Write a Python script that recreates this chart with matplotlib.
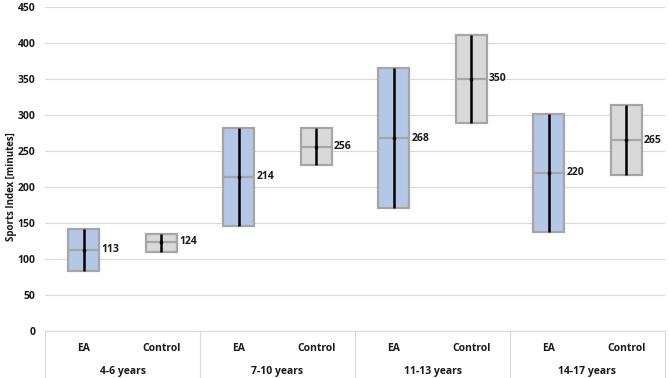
import matplotlib
matplotlib.use("Agg")
import matplotlib.pyplot as plt
import matplotlib.transforms as mtransforms

plt.rcParams['font.family'] = ['Open Sans', 'DejaVu Sans']

age_groups = ["4-6 years", "7-10 years", "11-13 years", "14-17 years"]
subgroups = ["EA", "Control"]

box_low = [83, 110, 146, 230, 171, 289, 137, 217]
box_high = [142, 135, 282, 282, 365, 411, 301, 314]
medians = [113, 124, 214, 256, 268, 350, 220, 265]

fill_colors = ["#B4C7E7", "#D9D9D9"]
edge_color = "#A6A6A6"
text_color = "#1a1a1a"

fig = plt.figure(figsize=(6.69, 3.78), dpi=100)
ax = fig.add_axes([0.0673, 0.1243, 0.9267, 0.8572])

n = len(medians)
xs = list(range(n))
for i in xs:
    fc = fill_colors[i % 2]
    ax.bar(i, box_high[i] - box_low[i], bottom=box_low[i], width=0.4,
           color=fc, edgecolor=edge_color, linewidth=1.6, zorder=2)
    ax.hlines(medians[i], i - 0.2, i + 0.2, color=edge_color, linewidth=1.6, zorder=3)
    ax.vlines(i, box_low[i], box_high[i], color="black", linewidth=1.8, zorder=4)
    ax.plot(i, medians[i], marker="s", ms=2, color="black", zorder=5)
    ax.text(i + 0.23, medians[i], str(medians[i]), ha="left", va="center",
            fontsize=7.5, fontweight="bold", color=text_color)

ax.set_xlim(-0.5, n - 0.5)
ax.set_ylim(0, 450)
ax.set_yticks(range(0, 451, 50))
ax.tick_params(axis="y", length=0, labelsize=7.5, pad=7, labelcolor=text_color)
for lab in ax.get_yticklabels():
    lab.set_fontweight("bold")
ax.grid(axis="y", color="#D9D9D9", linewidth=0.8, zorder=0)
ax.set_axisbelow(True)
ax.set_xticks([])
for s in ["top", "right", "left"]:
    ax.spines[s].set_visible(False)
ax.spines["bottom"].set_color("#D9D9D9")
ax.spines["bottom"].set_linewidth(0.8)

ax.set_ylabel("Sports Index [minutes]", fontsize=7, fontweight="bold", color=text_color)
ax.yaxis.set_label_coords(-0.046, 0.447)

# two-level category axis
trans = mtransforms.blended_transform_factory(ax.transData, ax.transAxes)
for i in xs:
    ax.text(i, -0.055, subgroups[i % 2], transform=trans, ha="center", va="center",
            fontsize=7.5, fontweight="bold", color=text_color)
for g, name in enumerate(age_groups):
    ax.text(2 * g + 0.5, -0.125, name, transform=trans, ha="center", va="center",
            fontsize=7.5, fontweight="bold", color=text_color)
for g in range(len(age_groups) + 1):
    ax.plot([2 * g - 0.5, 2 * g - 0.5], [0, -0.16], transform=trans,
            color="#D9D9D9", linewidth=0.8, clip_on=False)

fig.savefig("out.png", dpi=100)
